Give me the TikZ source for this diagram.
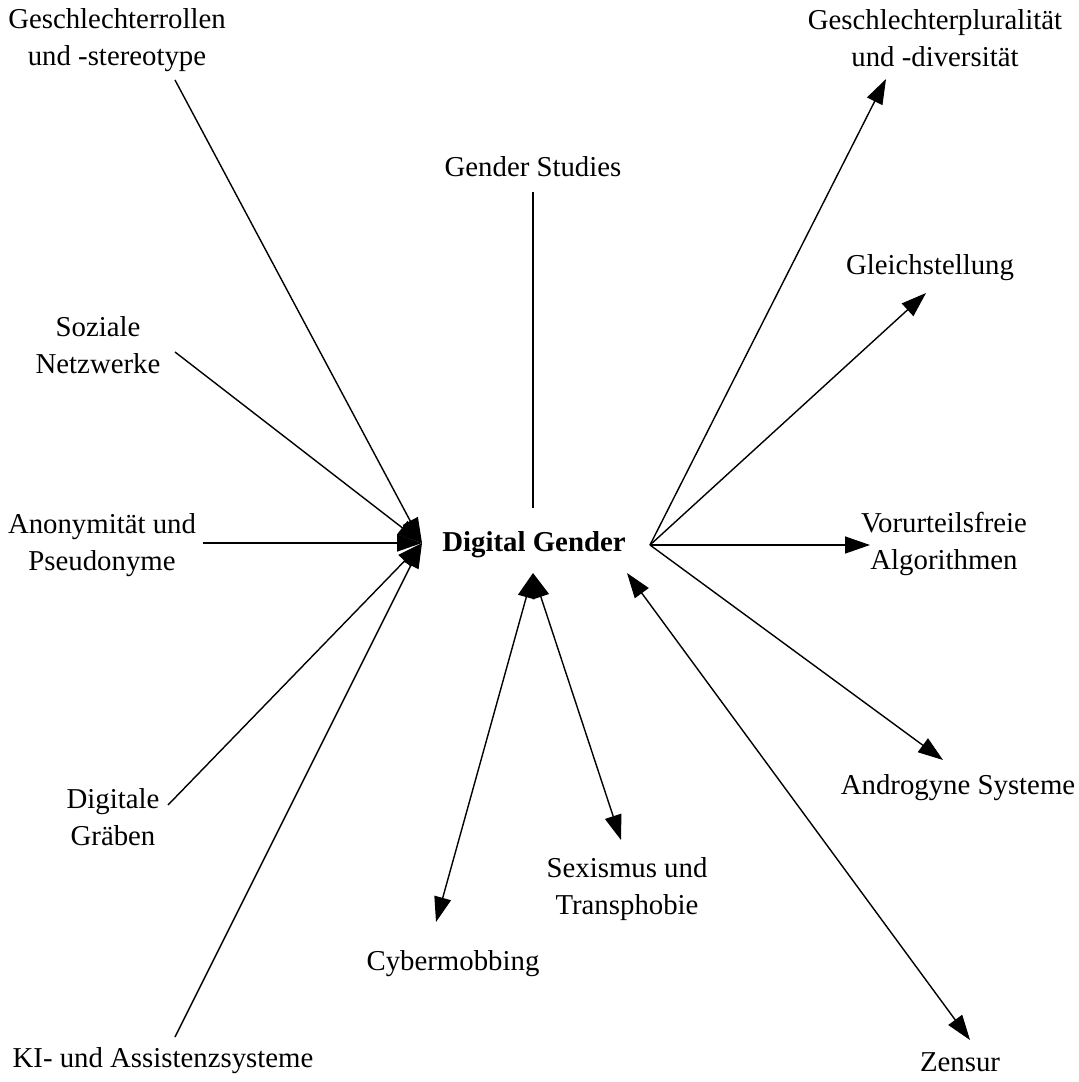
\documentclass[tikz,border=0pt]{standalone}
\usepackage{fontspec}
\setmainfont{Liberation Serif}
\usetikzlibrary{arrows.meta}
\begin{document}
\begin{tikzpicture}[x=1pt,y=-1pt,
  lbl/.style={align=center,inner sep=0pt,font=\fontsize{28.8}{37}\selectfont},
  con/.style={line width=1.4pt},
  arr/.style={con,-{Triangle[length=25pt,width=17pt]}},
  darr/.style={con,{Triangle[length=25pt,width=17pt]}-{Triangle[length=25pt,width=17pt]}}]
\useasboundingbox[fill=white] (0,0) rectangle (1079,1082);
% labels
\node[lbl,font=\fontsize{28.8}{36}\selectfont\bfseries] (dg) at (534,545) {Digital Gender};
\node[lbl] (gr) at (117,40) {Geschlechterrollen\\und -stereotype};
\node[lbl] (gs) at (533,167) {Gender Studies};
\node[lbl] (sn) at (98,345) {Soziale\\Netzwerke};
\node[lbl] (an) at (102,545) {Anonymität und\\Pseudonyme};
\node[lbl] (dgr) at (113,817) {Digitale\\Gräben};
\node[lbl] (ki) at (163,1061) {KI- und Assistenzsysteme};
\node[lbl] (cy) at (453,964) {Cybermobbing};
\node[lbl] (se) at (627,889) {Sexismus und\\Transphobie};
\node[lbl] (ze) at (960,1062) {Zensur};
\node[lbl] (as) at (958,788) {Androgyne Systeme};
\node[lbl] (va) at (944,544) {Vorurteilsfreie\\Algorithmen};
\node[lbl] (gl) at (930,268) {Gleichstellung};
\node[lbl] (gp) at (935,38) {Geschlechterpluralität\\und -diversität};
% connector ends
\coordinate (L) at (422,543);
\coordinate (R) at (650,545);
\coordinate (B) at (533,573);
\coordinate (BR) at (627,573);
\coordinate (T) at (533,508);
\coordinate (grE) at (175,80);
\coordinate (gsE) at (533,192);
\coordinate (snE) at (175,352);
\coordinate (anE) at (203,543);
\coordinate (dgrE) at (168,805);
\coordinate (kiE) at (175,1037);
\coordinate (cyE) at (436,922);
\coordinate (seE) at (621,840);
\coordinate (zeE) at (970,1040);
\coordinate (asE) at (943,760);
\coordinate (vaE) at (870,545);
\coordinate (glE) at (926,293);
\coordinate (gpE) at (886,79);
% connectors
\draw[arr] (grE) -- (L);
\draw[con] (gsE) -- (T);
\draw[arr] (snE) -- (L);
\draw[arr] (anE) -- (L);
\draw[arr] (dgrE) -- (L);
\draw[arr] (kiE) -- (L);
\draw[darr] (cyE) -- (B);
\draw[darr] (B) -- (seE);
\draw[darr] (BR) -- (zeE);
\draw[arr] (R) -- (asE);
\draw[arr] (R) -- (vaE);
\draw[arr] (R) -- (glE);
\draw[arr] (R) -- (gpE);
\end{tikzpicture}
\end{document}
